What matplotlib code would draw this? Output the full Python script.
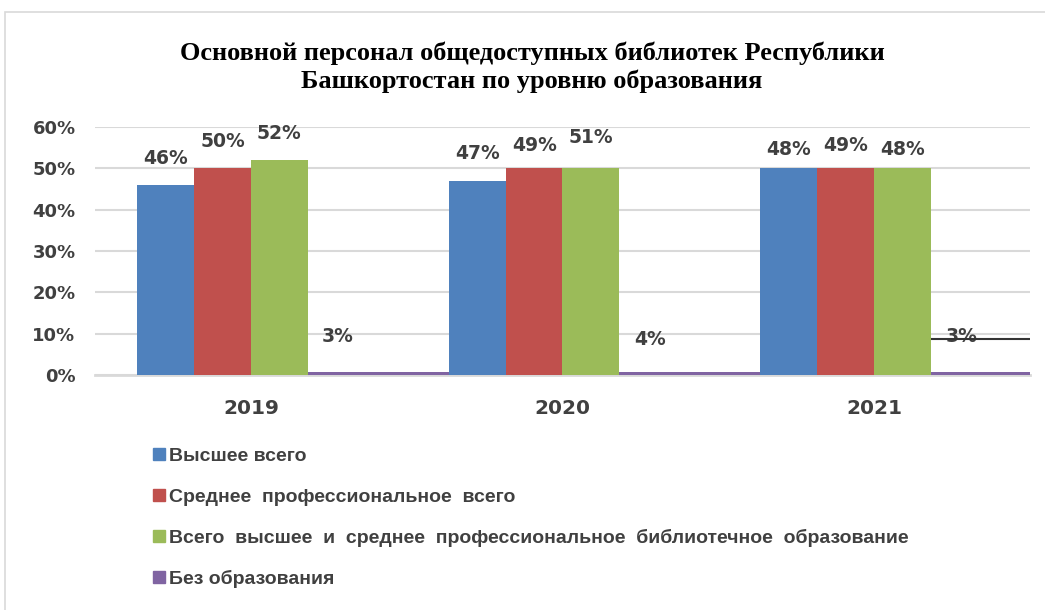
import numpy as np
import matplotlib
matplotlib.use('Agg')
import matplotlib.pyplot as plt
from matplotlib.patches import Rectangle
from matplotlib.lines import Line2D

years = ['2019', '2020', '2021']
series = ['Высшее всего',
          'Среднее  профессиональное  всего',
          'Всего  высшее  и  среднее  профессиональное  библиотечное  образование',
          'Без образования']
# bar heights as drawn (%)
higher = [46, 47, 50]
secondary = [50, 50, 50]
library = [52, 50, 50]
no_edu = [0.7, 0.7, 0.7]
# data labels as printed
higher_lbl = [46, 47, 48]
secondary_lbl = [50, 49, 49]
library_lbl = [52, 51, 48]
no_edu_lbl = [3, 4, 3]

colors = ['#4F81BD', '#C0504D', '#9BBB59', '#8064A2']
txt = '#404040'
sans = ['DejaVu Sans']
narrow = ['Liberation Sans Narrow', 'Liberation Sans', 'DejaVu Sans']

fig = plt.figure(figsize=(10.45, 6.1), dpi=100)
fig.patches.append(Rectangle((5/1045, -0.1), 1.2, 1 - 12/610 + 0.1, transform=fig.transFigure,
                             fill=False, edgecolor='#d9d9d9', lw=1.2))
ax = fig.add_axes([95/1045, 1 - 375/610, 935/1045, 248/610])

x = np.arange(len(years))
w = 0.1827
offs = [-0.274, -0.091, 0.091]
vals = [higher, secondary, library]
lbls = [higher_lbl, secondary_lbl, library_lbl]

# purple series: thin strip starting at group centre
ax.bar(x, no_edu, width=0.64, bottom=0, align='edge', color=colors[3], zorder=4)
for i in range(3):
    ax.bar(x + offs[i], vals[i], width=w, color=colors[i], zorder=5)
    for xi, l in zip(x, lbls[i]):
        ax.text(xi + offs[i], l + 6.5, f'{l}%', ha='center', va='center',
                fontsize=13.5, fontweight='bold', color=txt, family=sans, zorder=6)
for xi, l, ly in zip(x, no_edu_lbl, [9.4, 8.5, 9.4]):
    ax.text(xi + 0.28, ly, f'{l}%', ha='center', va='center',
            fontsize=13.5, fontweight='bold', color=txt, family=sans, zorder=6)
ax.hlines(8.7, 2 + 0.183, 2.5, color='#333333', lw=1.5, zorder=6)

ax.set_xlim(-0.5, 2.5)
ax.set_ylim(0, 60)
ax.set_yticks(range(0, 61, 10))
ax.set_yticklabels([f'{v}%' for v in range(0, 61, 10)])
ax.set_xticks(x)
ax.set_xticklabels(years)
ax.grid(axis='y', color='#d9d9d9', lw=1.5, zorder=0)
ax.set_axisbelow(True)
for s in ['top', 'right', 'left']:
    ax.spines[s].set_visible(False)
ax.spines['bottom'].set_color('#d9d9d9')
ax.spines['bottom'].set_linewidth(2)
ax.tick_params(axis='both', length=0, labelcolor=txt)
ax.tick_params(axis='y', pad=14, labelsize=13)
ax.tick_params(axis='x', pad=17, labelsize=14.5)
for t in ax.get_xticklabels() + ax.get_yticklabels():
    t.set_fontweight('bold')
    t.set_family(sans)

fig.text(532/1045, 1 - 67/610,
         'Основной персонал общедоступных библиотек Республики\nБашкортостан по уровню образования',
         ha='center', va='center', fontsize=19, fontweight='bold',
         family=['Liberation Serif', 'DejaVu Serif'], linespacing=1.25)

handles = [Line2D([], [], marker='s', ls='none', color=c, markersize=9) for c in colors]
leg = fig.legend(handles, series, loc='upper left', bbox_to_anchor=(134/1045, 1 - 430/610),
                 frameon=False, handletextpad=0.1, labelspacing=1.19, handlelength=0.8,
                 prop={'family': narrow, 'weight': 'bold', 'size': 14})
for t in leg.get_texts():
    t.set_color(txt)

fig.savefig('out.png', dpi=100)
